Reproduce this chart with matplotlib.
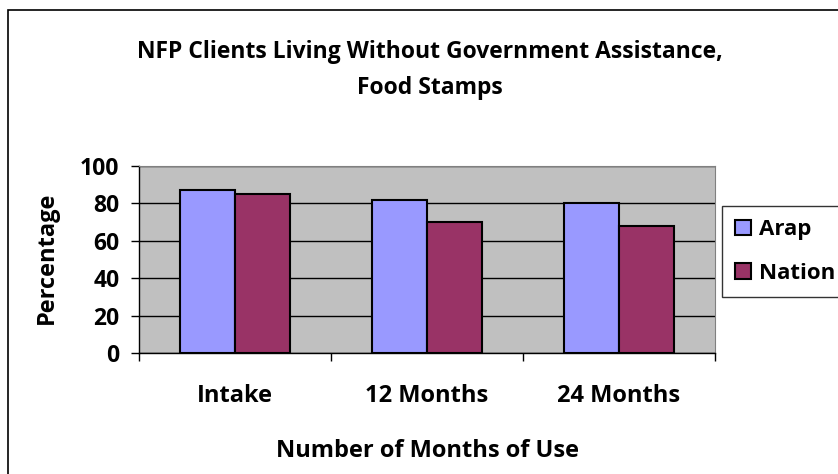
import matplotlib.pyplot as plt
import numpy as np
from matplotlib.patches import Rectangle
from matplotlib.ticker import FixedLocator

categories = ['Intake', '12 Months', '24 Months']
arap = [87, 82, 80]
nation = [85, 70, 68]
series_names = ['Arap', 'Nation']
yticks = [0, 20, 40, 60, 80, 100]

plt.rcParams['font.family'] = ['Open Sans', 'DejaVu Sans']
plt.rcParams['font.weight'] = 'bold'

fig = plt.figure(figsize=(8.38, 4.74), dpi=100)
fig.patches.append(Rectangle((8 / 838, -0.1), 1.2, 1 - 10 / 474 + 0.1,
                             transform=fig.transFigure, fill=False,
                             edgecolor='black', linewidth=1.2))

ax = fig.add_axes([139 / 838, 1 - 353 / 474, 576 / 838, 187 / 474])
ax.set_facecolor('#C0C0C0')

x = np.arange(len(categories))
w = 0.286
ax.bar(x - w / 2, arap, w, color='#9999FF', edgecolor='black', linewidth=1.5,
       label=series_names[0], zorder=3)
ax.bar(x + w / 2, nation, w, color='#993366', edgecolor='black', linewidth=1.5,
       label=series_names[1], zorder=3)

ax.set_xlim(-0.5, len(categories) - 0.5)
ax.set_ylim(0, 100)
ax.set_yticks(yticks)
ax.set_yticklabels([str(v) for v in yticks], fontsize=16.5, fontweight='bold')
ax.yaxis.grid(True, color='black', linewidth=1, zorder=1)
ax.tick_params(axis='y', direction='out', length=6, width=1, pad=8)
ax.set_xticks(x)
ax.set_xticklabels(categories, fontsize=17, fontweight='bold')
ax.tick_params(axis='x', which='major', length=0, pad=22)
ax.xaxis.set_minor_locator(FixedLocator([-0.5, 0.5, 1.5, 2.5]))
ax.tick_params(axis='x', which='minor', direction='out', length=6, width=1)

for s in ['top', 'right']:
    ax.spines[s].set_color('#808080')
for s in ['left', 'bottom']:
    ax.spines[s].set_color('black')
    ax.spines[s].set_linewidth(1)

fig.text(47 / 838, 1 - 258 / 474, 'Percentage', rotation=90,
         ha='center', va='center', fontsize=17, fontweight='bold')

fig.text(430 / 838, 1 - 52 / 474, 'NFP Clients Living Without Government Assistance,',
         ha='center', va='center', fontsize=16.5, fontweight='bold')
fig.text(430 / 838, 1 - 88 / 474, 'Food Stamps',
         ha='center', va='center', fontsize=16.5, fontweight='bold')
fig.text(427 / 838, 1 - 451 / 474, 'Number of Months of Use',
         ha='center', va='center', fontsize=17, fontweight='bold')

leg = fig.legend(loc='upper left', bbox_to_anchor=(722 / 838, 1 - 206 / 474),
                 borderaxespad=0, frameon=True, fancybox=False, edgecolor='black',
                 prop={'size': 16, 'weight': 'bold'},
                 handlelength=0.7, handleheight=0.7,
                 handletextpad=0.35, borderpad=0.6, labelspacing=1.02)
leg.get_frame().set_linewidth(1)

plt.savefig('out.png', dpi=100)
